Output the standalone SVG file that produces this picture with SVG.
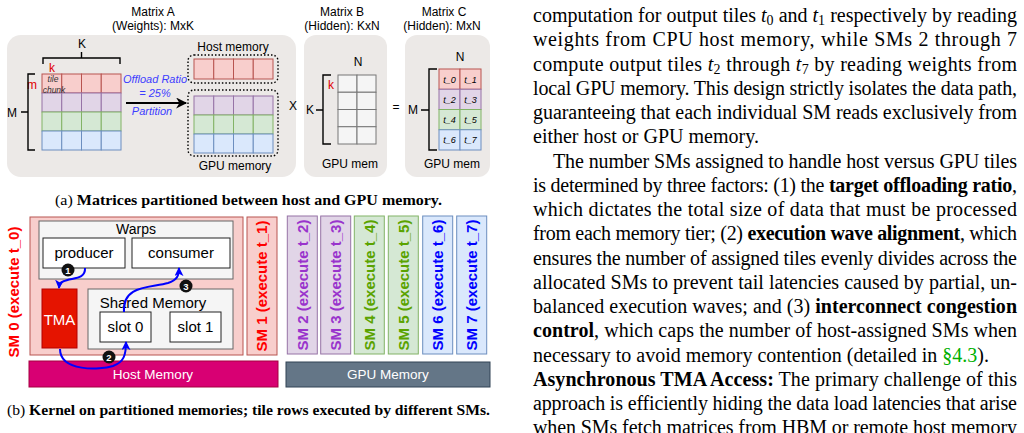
<svg xmlns="http://www.w3.org/2000/svg" width="1024" height="433" viewBox="0 0 1024 433">
<style>
.s{font-family:"Liberation Sans",Arial,sans-serif;}
.r{font-family:"Liberation Serif","Times New Roman",serif;}
.panel{fill:#ece9e7;stroke:none;}
.cr{fill:#f8cecc;stroke:#b85450;stroke-width:1;}
.cp{fill:#e1d5e7;stroke:#9673a6;stroke-width:1;}
.cg{fill:#d5e8d4;stroke:#82b366;stroke-width:1;}
.cb{fill:#dae8fc;stroke:#6c8ebf;stroke-width:1;}
.cw{fill:#f5f5f5;stroke:#777;stroke-width:1;}
.dot{fill:none;stroke:#000;stroke-width:1.4;stroke-dasharray:1.5 2;}
.br{fill:none;stroke:#000;stroke-width:1.4;}
.lab{font-size:12px;fill:#000;}
.tl{font-size:9px;font-style:italic;fill:#000;}
.gbox{fill:#f5f5f5;stroke:#666;stroke-width:1;}
.wbox{fill:#fff;stroke:#222;stroke-width:1;}
.bt{font-size:15px;fill:#000;}
.sm{font-size:15px;font-weight:bold;}
.body{font-size:20px;fill:#000;}
.flow{fill:none;stroke:#0000ff;stroke-width:2;}
</style>
<defs>
<marker id="ab" viewBox="0 0 10 10" refX="9" refY="5" markerWidth="9" markerHeight="9" markerUnits="userSpaceOnUse" orient="auto"><path d="M0,0 L10,5 L0,10 L2.5,5 z" fill="#0000ff"/></marker>
<marker id="ak" viewBox="0 0 10 10" refX="9" refY="5" markerWidth="12" markerHeight="11" markerUnits="userSpaceOnUse" orient="auto"><path d="M0,0 L10,5 L0,10 L3,5 z" fill="#000"/></marker>
</defs>

<!-- ===== (a) matrices ===== -->
<g id="matrixA">
<rect class="panel" x="7" y="35" width="289" height="142" rx="14"/>
<text class="s lab" x="153" y="16" text-anchor="middle">Matrix A</text>
<text class="s lab" x="153" y="30" text-anchor="middle">(Weights): MxK</text>
<text class="s lab" x="82" y="48" text-anchor="middle">K</text>
<path class="br" d="M43,64 V58 H120 V64 M81.5,58 V52"/>
<text class="s" x="52" y="72" text-anchor="middle" font-size="12" fill="#e00000">k</text>
<text class="s" x="32" y="89" text-anchor="middle" font-size="12" fill="#e00000">m</text>
<path class="br" d="M35,74 H28 V150 H35 M28,112 H21"/>
<text class="s lab" x="12" y="117" text-anchor="middle">M</text>
<g>
<rect class="cr" x="42" y="74" width="19.75" height="19"/><rect class="cr" x="61.75" y="74" width="19.75" height="19"/><rect class="cr" x="81.5" y="74" width="19.75" height="19"/><rect class="cr" x="101.25" y="74" width="19.75" height="19"/>
<rect class="cp" x="42" y="93" width="19.75" height="19"/><rect class="cp" x="61.75" y="93" width="19.75" height="19"/><rect class="cp" x="81.5" y="93" width="19.75" height="19"/><rect class="cp" x="101.25" y="93" width="19.75" height="19"/>
<rect class="cg" x="42" y="112" width="19.75" height="19"/><rect class="cg" x="61.75" y="112" width="19.75" height="19"/><rect class="cg" x="81.5" y="112" width="19.75" height="19"/><rect class="cg" x="101.25" y="112" width="19.75" height="19"/>
<rect class="cb" x="42" y="131" width="19.75" height="19"/><rect class="cb" x="61.75" y="131" width="19.75" height="19"/><rect class="cb" x="81.5" y="131" width="19.75" height="19"/><rect class="cb" x="101.25" y="131" width="19.75" height="19"/>
</g>
<text class="s" x="53" y="82" text-anchor="middle" font-size="8.5" font-style="italic" fill="#333">tile</text>
<text class="s" x="54" y="93" text-anchor="middle" font-size="8.5" font-style="italic" fill="#333">chunk</text>
<text class="s" x="155" y="83" text-anchor="middle" font-size="11" font-style="italic" fill="#3d3dff">Offload Ratio</text>
<text class="s" x="155" y="97" text-anchor="middle" font-size="11" font-style="italic" fill="#3d3dff">= 25%</text>
<text class="s" x="152" y="115" text-anchor="middle" font-size="11" font-style="italic" fill="#3d3dff">Partition</text>
<text class="s lab" x="233" y="51" text-anchor="middle">Host memory</text>
<rect class="dot" x="188" y="55" width="90" height="28" rx="6"/>
<rect class="cr" x="194" y="59" width="19.75" height="20"/><rect class="cr" x="213.75" y="59" width="19.75" height="20"/><rect class="cr" x="233.5" y="59" width="19.75" height="20"/><rect class="cr" x="253.25" y="59" width="19.75" height="20"/>
<rect class="dot" x="188" y="90" width="90" height="66" rx="6"/>
<rect class="cp" x="194" y="96" width="19.75" height="19"/><rect class="cp" x="213.75" y="96" width="19.75" height="19"/><rect class="cp" x="233.5" y="96" width="19.75" height="19"/><rect class="cp" x="253.25" y="96" width="19.75" height="19"/>
<rect class="cg" x="194" y="115" width="19.75" height="19"/><rect class="cg" x="213.75" y="115" width="19.75" height="19"/><rect class="cg" x="233.5" y="115" width="19.75" height="19"/><rect class="cg" x="253.25" y="115" width="19.75" height="19"/>
<rect class="cb" x="194" y="134" width="19.75" height="19"/><rect class="cb" x="213.75" y="134" width="19.75" height="19"/><rect class="cb" x="233.5" y="134" width="19.75" height="19"/><rect class="cb" x="253.25" y="134" width="19.75" height="19"/>
<text class="s lab" x="235" y="170" text-anchor="middle">GPU memory</text>
<text class="s lab" x="293" y="110" text-anchor="middle">X</text>
</g>

<g id="matrixB">
<rect class="panel" x="304" y="35" width="83" height="142" rx="12"/>
<text class="s lab" x="342" y="16" text-anchor="middle">Matrix B</text>
<text class="s lab" x="342" y="30" text-anchor="middle">(Hidden): KxN</text>
<text class="s lab" x="358" y="66" text-anchor="middle">N</text>
<rect class="cw" x="338" y="75" width="19" height="17.25"/><rect class="cw" x="357" y="75" width="19" height="17.25"/>
<rect class="cw" x="338" y="92.25" width="19" height="17.25"/><rect class="cw" x="357" y="92.25" width="19" height="17.25"/>
<rect class="cw" x="338" y="109.5" width="19" height="17.25"/><rect class="cw" x="357" y="109.5" width="19" height="17.25"/>
<rect class="cw" x="338" y="126.75" width="19" height="17.25"/><rect class="cw" x="357" y="126.75" width="19" height="17.25"/>
<path class="br" d="M331,75 H323 V144 H331 M323,110 H316"/>
<text class="s lab" x="310" y="114" text-anchor="middle">K</text>
<text class="s" x="331" y="89" text-anchor="middle" font-size="12" fill="#e00000">k</text>
<text class="s lab" x="350" y="168" text-anchor="middle">GPU mem</text>
<text class="s lab" x="396" y="111" text-anchor="middle">=</text>
</g>

<g id="matrixC">
<rect class="panel" x="405" y="35" width="85" height="142" rx="12"/>
<text class="s lab" x="444" y="16" text-anchor="middle">Matrix C</text>
<text class="s lab" x="442" y="30" text-anchor="middle">(Hidden): MxN</text>
<text class="s lab" x="460" y="61" text-anchor="middle">N</text>
<rect class="cr" x="439" y="69" width="21" height="20.25"/><rect class="cr" x="460" y="69" width="21" height="20.25"/>
<rect class="cp" x="439" y="89.25" width="21" height="20.25"/><rect class="cp" x="460" y="89.25" width="21" height="20.25"/>
<rect class="cg" x="439" y="109.5" width="21" height="20.25"/><rect class="cg" x="460" y="109.5" width="21" height="20.25"/>
<rect class="cb" x="439" y="129.75" width="21" height="20.25"/><rect class="cb" x="460" y="129.75" width="21" height="20.25"/>
<text class="s tl" x="449.5" y="82.5" text-anchor="middle">t_0</text><text class="s tl" x="470.5" y="82.5" text-anchor="middle">t_1</text>
<text class="s tl" x="449.5" y="102.7" text-anchor="middle">t_2</text><text class="s tl" x="470.5" y="102.7" text-anchor="middle">t_3</text>
<text class="s tl" x="449.5" y="123" text-anchor="middle">t_4</text><text class="s tl" x="470.5" y="123" text-anchor="middle">t_5</text>
<text class="s tl" x="449.5" y="143.2" text-anchor="middle">t_6</text><text class="s tl" x="470.5" y="143.2" text-anchor="middle">t_7</text>
<path class="br" d="M437,69 H429 V150 H437 M429,110 H421"/>
<text class="s lab" x="413" y="114" text-anchor="middle">M</text>
<text class="s lab" x="452" y="168" text-anchor="middle">GPU mem</text>
</g>

<text class="r" x="55" y="205" font-size="14.5" textLength="387" lengthAdjust="spacingAndGlyphs">(a) <tspan font-weight="bold">Matrices partitioned between host and GPU memory.</tspan></text>

<!-- ===== (b) kernel ===== -->
<g id="sm0">
<rect class="cr" x="30" y="217" width="213" height="138"/>
<text class="s sm" x="18.5" y="292" text-anchor="middle" fill="#ff0000" transform="rotate(-90 18.5 292)">SM 0 (execute t_0)</text>
</g>
<g id="warps">
<rect class="gbox" x="39" y="221" width="194" height="58"/>
<text class="s" x="136" y="234" text-anchor="middle" font-size="14">Warps</text>
</g>
<g id="producer"><rect class="wbox" x="43" y="238" width="82" height="30"/><text class="s bt" x="84" y="258" text-anchor="middle">producer</text></g>
<g id="consumer"><rect class="wbox" x="132" y="238" width="98" height="30"/><text class="s bt" x="181" y="258" text-anchor="middle">consumer</text></g>
<g id="tma"><rect x="42" y="289" width="35" height="59" fill="#e51400" stroke="#b20000"/><text class="s bt" x="59.5" y="325" text-anchor="middle" fill="#fff" style="fill:#fff">TMA</text></g>
<g id="sharedmem">
<rect class="gbox" x="88" y="289" width="145" height="60"/>
<text class="s bt" x="153" y="308" text-anchor="middle">Shared Memory</text>
</g>
<g id="slot0"><rect class="wbox" x="100" y="312" width="51" height="30"/><text class="s bt" x="125.5" y="332" text-anchor="middle">slot 0</text></g>
<g id="slot1"><rect class="wbox" x="170" y="312" width="51" height="30"/><text class="s bt" x="195.5" y="332" text-anchor="middle">slot 1</text></g>
<g id="hostmem"><rect x="29" y="361" width="249" height="26" fill="#d80073" stroke="#a50040"/><text class="s" x="153" y="378.5" text-anchor="middle" font-size="13.5" fill="#fff">Host Memory</text></g>

<g id="sm1"><rect class="cr" x="247" y="217" width="30" height="138"/><text class="s sm" x="267.4" y="286" text-anchor="middle" fill="#ff0000" transform="rotate(-90 267.4 286)">SM 1 (execute t_1)</text></g>
<g id="sm2"><rect class="cp" x="287.3" y="216" width="30" height="138"/><text class="s sm" x="307.7" y="285" text-anchor="middle" fill="#9933cc" transform="rotate(-90 307.7 285)">SM 2 (execute t_2)</text></g>
<g id="sm3"><rect class="cp" x="320.7" y="216" width="30" height="138"/><text class="s sm" x="341.1" y="285" text-anchor="middle" fill="#9933cc" transform="rotate(-90 341.1 285)">SM 3 (execute t_3)</text></g>
<g id="sm4"><rect class="cg" x="354.3" y="216" width="30" height="138"/><text class="s sm" x="374.7" y="285" text-anchor="middle" fill="#5aa300" transform="rotate(-90 374.7 285)">SM 4 (execute t_4)</text></g>
<g id="sm5"><rect class="cg" x="388.3" y="216" width="30" height="138"/><text class="s sm" x="408.7" y="285" text-anchor="middle" fill="#5aa300" transform="rotate(-90 408.7 285)">SM 5 (execute t_5)</text></g>
<g id="sm6"><rect class="cb" x="422.7" y="216" width="30" height="138"/><text class="s sm" x="443.1" y="285" text-anchor="middle" fill="#0000ff" transform="rotate(-90 443.1 285)">SM 6 (execute t_6)</text></g>
<g id="sm7"><rect class="cb" x="456.7" y="216" width="30" height="138"/><text class="s sm" x="477.1" y="285" text-anchor="middle" fill="#0000ff" transform="rotate(-90 477.1 285)">SM 7 (execute t_7)</text></g>
<g id="gpumem"><rect x="286" y="362" width="204" height="25" fill="#647687" stroke="#314354"/><text class="s" x="388" y="379" text-anchor="middle" font-size="13.5" fill="#fff">GPU Memory</text></g>

<g id="connectors">
<line x1="126" y1="103" x2="186" y2="103" stroke="#000" stroke-width="2" marker-end="url(#ak)"/>
<path class="flow" d="M85,268 C86,284 60,274 59,288" marker-end="url(#ab)"/>
<path class="flow" d="M60,349 C60,372 100,370 113,366 C124,362 126,355 126,342" marker-end="url(#ab)"/>
<path class="flow" d="M124,312 C122,285 150,288 168,283 C177,280 179,276 179,268" marker-end="url(#ab)"/>
</g>
<g id="steps">
<circle cx="68" cy="270" r="6.5" fill="#111"/><text class="s" x="68" y="273.5" text-anchor="middle" font-size="9.5" font-weight="bold" fill="#fff">1</text>
<circle cx="109" cy="357" r="6.5" fill="#111"/><text class="s" x="109" y="360.5" text-anchor="middle" font-size="9.5" font-weight="bold" fill="#fff">2</text>
<circle cx="186" cy="286" r="6.5" fill="#111"/><text class="s" x="186" y="289.5" text-anchor="middle" font-size="9.5" font-weight="bold" fill="#fff">3</text>
</g>

<text class="r" x="7" y="415" font-size="14.5" textLength="483" lengthAdjust="spacingAndGlyphs">(b) <tspan font-weight="bold">Kernel on partitioned memories; tile rows executed by different SMs.</tspan></text>

<!-- ===== body text ===== -->
<g class="r body">
<text x="533" y="22" textLength="484" lengthAdjust="spacing">computation for output tiles <tspan font-style="italic">t</tspan><tspan font-size="14" dy="3">0</tspan><tspan dy="-3"> and </tspan><tspan font-style="italic">t</tspan><tspan font-size="14" dy="3">1</tspan><tspan dy="-3"> respectively by reading</tspan></text>
<text x="533" y="46.25" textLength="484" lengthAdjust="spacing">weights from CPU host memory, while SMs 2 through 7</text>
<text x="533" y="70.5" textLength="484" lengthAdjust="spacing">compute output tiles <tspan font-style="italic">t</tspan><tspan font-size="14" dy="3">2</tspan><tspan dy="-3"> through </tspan><tspan font-style="italic">t</tspan><tspan font-size="14" dy="3">7</tspan><tspan dy="-3"> by reading weights from</tspan></text>
<text x="533" y="94.75" textLength="484" lengthAdjust="spacing">local GPU memory. This design strictly isolates the data path,</text>
<text x="533" y="119" textLength="484" lengthAdjust="spacing">guaranteeing that each individual SM reads exclusively from</text>
<text x="533" y="143.25">either host or GPU memory.</text>
<text x="553" y="167.5" textLength="464" lengthAdjust="spacing">The number SMs assigned to handle host versus GPU tiles</text>
<text x="533" y="191.75" textLength="484" lengthAdjust="spacing">is determined by three factors: (1) the <tspan font-weight="bold">target offloading ratio</tspan>,</text>
<text x="533" y="216" textLength="484" lengthAdjust="spacing">which dictates the total size of data that must be processed</text>
<text x="533" y="240.25" textLength="484" lengthAdjust="spacing">from each memory tier; (2) <tspan font-weight="bold">execution wave alignment</tspan>, which</text>
<text x="533" y="264.5" textLength="484" lengthAdjust="spacing">ensures the number of assigned tiles evenly divides across the</text>
<text x="533" y="288.75" textLength="484" lengthAdjust="spacing">allocated SMs to prevent tail latencies caused by partial, un-</text>
<text x="533" y="313" textLength="484" lengthAdjust="spacing">balanced execution waves; and (3) <tspan font-weight="bold">interconnect congestion</tspan></text>
<text x="533" y="337.25" textLength="484" lengthAdjust="spacing"><tspan font-weight="bold">control</tspan>, which caps the number of host-assigned SMs when</text>
<text x="533" y="361.5">necessary to avoid memory contention (detailed in <tspan fill="#00b000">§4.3</tspan>).</text>
<text x="533" y="385.75" textLength="484" lengthAdjust="spacing"><tspan font-weight="bold">Asynchronous TMA Access:</tspan> The primary challenge of this</text>
<text x="533" y="410" textLength="484" lengthAdjust="spacing">approach is efficiently hiding the data load latencies that arise</text>
<text x="533" y="434.25" textLength="484" lengthAdjust="spacing">when SMs fetch matrices from HBM or remote host memory</text>
</g>
</svg>
